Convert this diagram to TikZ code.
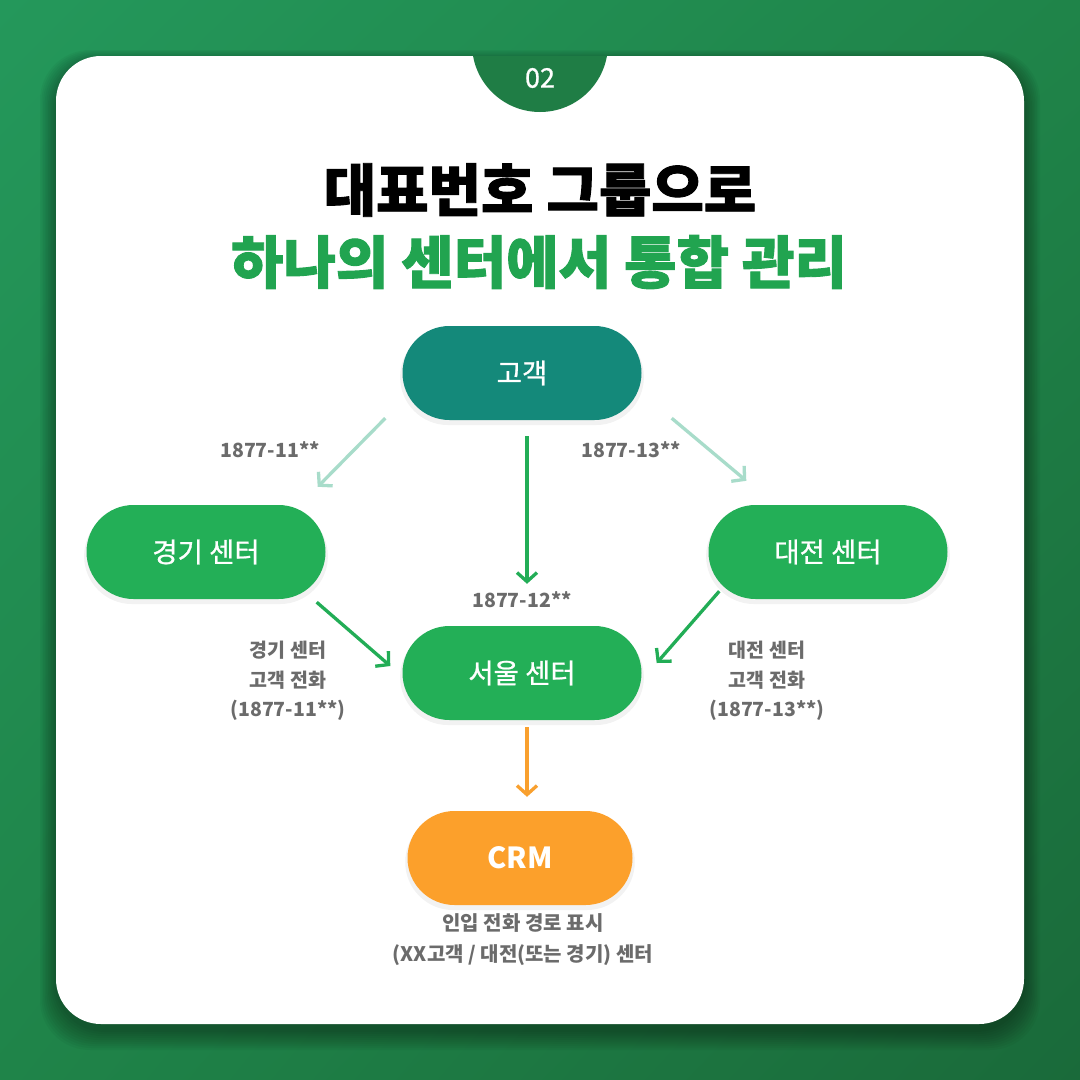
\documentclass[tikz,border=0pt]{standalone}
\usepackage{fontspec}
\newfontfamily\kr{Noto Sans CJK KR}
\newfontfamily\krm[FakeBold=0.8]{Noto Sans CJK KR}
\newfontfamily\krblack[BoldFeatures={FakeBold=1.6}]{Noto Sans CJK KR}
\usetikzlibrary{arrows.meta,shadows,calc,shadings}
\definecolor{bgA}{HTML}{24985B}
\definecolor{bgB}{HTML}{1F8449}
\definecolor{bgC}{HTML}{1A6A3A}
\definecolor{badgecol}{HTML}{1F7D45}
\definecolor{titlegreen}{HTML}{21A450}
\definecolor{tealcol}{HTML}{14897A}
\definecolor{greencol}{HTML}{23AF57}
\definecolor{orangecol}{HTML}{FCA02B}
\definecolor{lightarrow}{HTML}{A8DCCA}
\definecolor{greenarrow}{HTML}{22AD56}
\definecolor{orangearrow}{HTML}{F9A02E}
\definecolor{labelgray}{HTML}{6B6B6B}
\tikzset{
  pill/.style={rounded corners=47pt, minimum width=239pt, minimum height=94pt,
    text=white, font=\krm\fontsize{27.5}{30}\selectfont, inner sep=0pt,
    drop shadow={opacity=0.10, shadow xshift=0pt, shadow yshift=-4pt, shadow scale=1.02}},
  conn/.style={line width=3.3pt, -{Straight Barb[length=9pt,width=20pt,line width=3.3pt]}},
  lbl/.style={text=labelgray, font=\kr\bfseries\fontsize{19.5}{29.5}\selectfont, align=center, inner sep=0pt},
  ttl/.style={font=\krblack\bfseries\fontsize{57}{60}\selectfont},
}
\begin{document}
\begin{tikzpicture}[x=1pt,y=-1pt]
\useasboundingbox (0,0) rectangle (1080,1080);
\shade[upper left=bgA, upper right=bgB, lower left=bgB, lower right=bgC] (0,0) rectangle (1080,1080);
% card shadow
\foreach \i in {1,...,10} {
  \fill[black, opacity=0.035, rounded corners=50pt] (56-1.6*\i,56-1.2*\i+6) rectangle (1024+1.6*\i,1024+2*\i+6);
}
\fill[white, rounded corners=45pt] (56,56) rectangle (1024,1024);
\begin{scope}
  \clip[rounded corners=45pt] (56,56) rectangle (1024,1024);
  \fill[badgecol] (540,44) circle (68pt);
\end{scope}
\node[text=white, font=\krm\fontsize{27}{30}\selectfont] (badge) at (540,78) {02};
% title
\node[ttl, text=black] (t1) at (540,190) {대표번호 그룹으로};
\node[ttl, text=titlegreen] (t2) at (539,262) {하나의 센터에서 통합 관리};
% nodes
\node[pill, fill=tealcol] (c) at (522,373) {고객};
\node[pill, fill=greencol] (g) at (206,552) {경기 센터};
\node[pill, fill=greencol] (d) at (828,552) {대전 센터};
\node[pill, fill=greencol] (s) at (522,673) {서울 센터};
\node[pill, fill=orangecol, minimum width=225pt, font=\kr\bfseries\fontsize{29}{32}\selectfont] (crm) at (520,858) {CRM};
% connectors
\draw[conn, lightarrow] ($(c.south west)+(-17,-2)$) -- ($(g.north east)+(-8,-18)$);
\draw[conn, greenarrow] ($(c.south)+(5,16)$) -- ($(s.north)+(5,-42)$);
\draw[conn, lightarrow] ($(c.south east)+(30,-2)$) -- ($(d.north west)+(38,-24)$);
\draw[conn, greenarrow] ($(g.south east)+(-9,3)$) -- ($(s.west)+(-12,-7)$);
\draw[conn, greenarrow] ($(d.south west)+(11,-8)$) -- ($(s.east)+(15,-10)$);
\draw[conn, orangearrow] ($(s.south)+(5,7)$) -- ($(crm.north)+(7,-14)$);
% labels
\node[lbl] (l1) at (270,450) {1877-11**};
\node[lbl] (l3) at (631,450) {1877-13**};
\node[lbl] (l2) at (522,600) {1877-12**};
\node[lbl] (lg) at (288,681) {경기 센터\\고객 전화\\(1877-11**)};
\node[lbl] (ld) at (767,681) {대전 센터\\고객 전화\\(1877-13**)};
\node[lbl, font=\kr\bfseries\fontsize{20}{31}\selectfont] (lc) at (523,940) {인입 전화 경로 표시\\(XX고객 / 대전(또는 경기) 센터};
\end{tikzpicture}
\end{document}
